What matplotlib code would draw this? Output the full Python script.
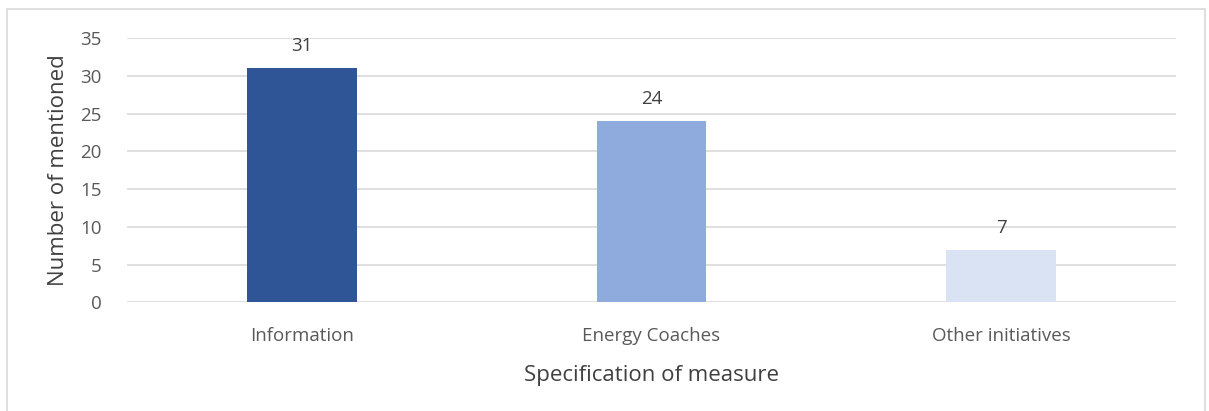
import matplotlib.pyplot as plt
from matplotlib.patches import Rectangle

plt.rcParams['font.family'] = ['Open Sans', 'DejaVu Sans']

categories = ['Information', 'Energy Coaches', 'Other initiatives']
mentions = [31, 24, 7]
bar_colors = ['#2F5597', '#8FAADC', '#DAE3F3']

fig = plt.figure(figsize=(12.09, 4.11), dpi=100)
ax = fig.add_axes([0.105, 0.264, 0.8677, 0.6435])

x = range(len(categories))
ax.bar(x, mentions, width=0.314, color=bar_colors, zorder=3)

for xi, v in zip(x, mentions):
    ax.text(xi, v + 1.7, str(v), ha='center', va='bottom', fontsize=13.5, color='#404040')

ax.set_xlim(-0.5, 2.5)
ax.set_ylim(0, 35)
ax.set_yticks(range(0, 36, 5))
ax.set_xticks(list(x))
ax.set_xticklabels(categories)
ax.yaxis.grid(True, color='#D9D9D9', linewidth=1.2, zorder=0)
ax.set_axisbelow(True)
for s in ax.spines.values():
    s.set_visible(False)
ax.tick_params(length=0, labelsize=13.5, colors='#595959')
ax.tick_params(axis='y', pad=18)
ax.tick_params(axis='x', pad=18)

ax.set_ylabel('Number of mentioned', fontsize=16, color='#404040', labelpad=8)
ax.set_xlabel('Specification of measure', fontsize=16, color='#404040', labelpad=14)

# light frame around the chart area
fig.patches.append(Rectangle((7 / 1209, -0.05), 1198 / 1209, 1.05 - 9 / 411,
                             transform=fig.transFigure, fill=False,
                             edgecolor='#D9D9D9', linewidth=1.2))

fig.savefig('out.png', dpi=100)
